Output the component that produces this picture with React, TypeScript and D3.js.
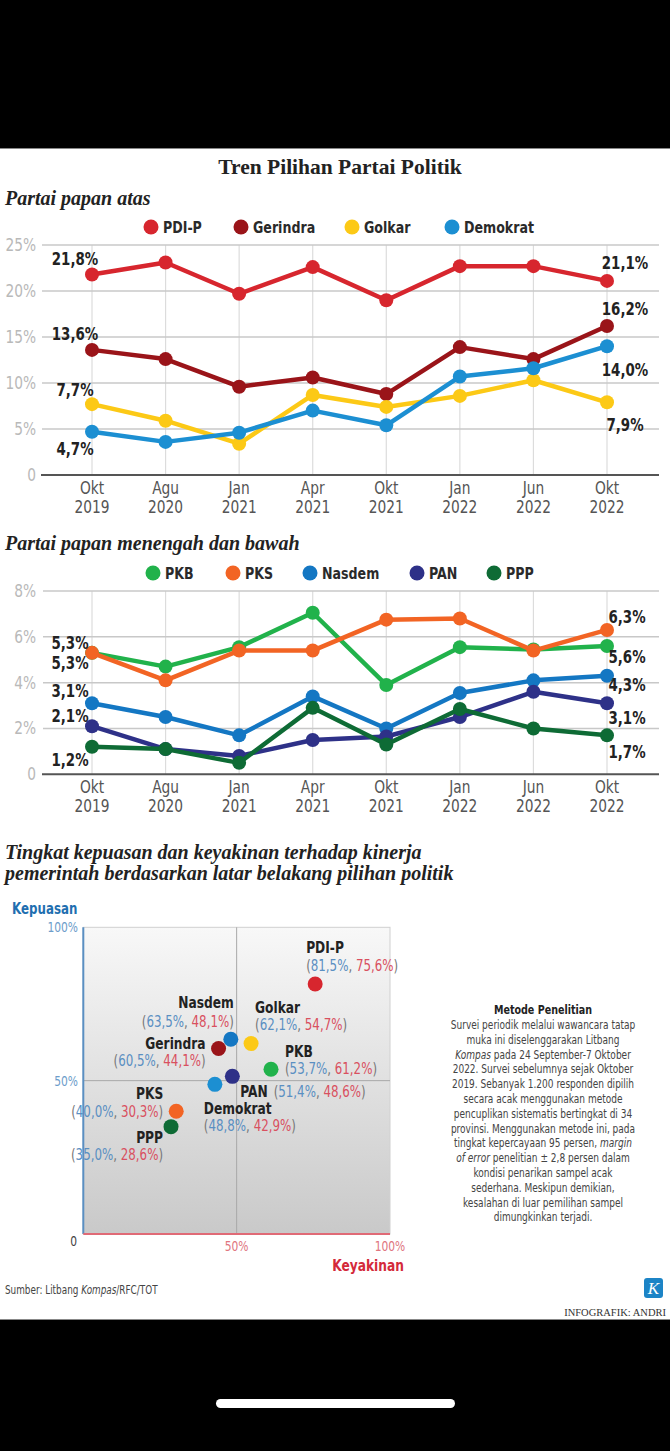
import React from 'react';
import * as d3 from 'd3';

// ---------- DATA ----------
const periodMonth = ['Okt', 'Agu', 'Jan', 'Apr', 'Okt', 'Jan', 'Jun', 'Okt'];
const periodYear = ['2019', '2020', '2021', '2021', '2021', '2022', '2022', '2022'];

const topParties = ['PDI-P', 'Gerindra', 'Golkar', 'Demokrat'];
const pdip = [21.8, 23.1, 19.7, 22.6, 19.0, 22.7, 22.7, 21.1];
const gerindra = [13.6, 12.6, 9.6, 10.6, 8.8, 13.9, 12.6, 16.2];
const golkar = [7.7, 5.9, 3.4, 8.7, 7.4, 8.6, 10.3, 7.9];
const demokrat = [4.7, 3.6, 4.6, 7.0, 5.4, 10.7, 11.6, 14.0];
const topTicks = [0, 5, 10, 15, 20, 25];

const midParties = ['PKB', 'PKS', 'Nasdem', 'PAN', 'PPP'];
const pkb = [5.3, 4.7, 5.55, 7.05, 3.9, 5.55, 5.45, 5.6];
const pks = [5.3, 4.1, 5.4, 5.4, 6.75, 6.8, 5.4, 6.3];
const nasdem = [3.1, 2.5, 1.7, 3.4, 2.0, 3.55, 4.1, 4.3];
const pan = [2.1, 1.1, 0.8, 1.5, 1.65, 2.5, 3.6, 3.1];
const ppp = [1.2, 1.1, 0.5, 2.9, 1.3, 2.85, 2.0, 1.7];
const midTicks = [0, 2, 4, 6, 8];

const scatterParties = ['PDI-P', 'Nasdem', 'Golkar', 'Gerindra', 'PKB', 'PAN', 'Demokrat', 'PKS', 'PPP'];
const kepuasan = [81.5, 63.5, 62.1, 60.5, 53.7, 51.4, 48.8, 40.0, 35.0];
const keyakinan = [75.6, 48.1, 54.7, 44.1, 61.2, 48.6, 42.9, 30.3, 28.6];
const scatterTicks = [0, 50, 100];

const methodLines = [
  [['Survei periodik melalui wawancara tatap', false]],
  [['muka ini diselenggarakan Litbang', false]],
  [['Kompas', true], [' pada 24 September-7 Oktober', false]],
  [['2022. Survei sebelumnya sejak Oktober', false]],
  [['2019. Sebanyak 1.200 responden dipilih', false]],
  [['secara acak menggunakan metode', false]],
  [['pencuplikan sistematis bertingkat di 34', false]],
  [['provinsi. Menggunakan metode ini, pada', false]],
  [['tingkat kepercayaan 95 persen, ', false], ['margin', true]],
  [['of error', true], [' penelitian \u00b1 2,8 persen dalam', false]],
  [['kondisi penarikan sampel acak', false]],
  [['sederhana. Meskipun demikian,', false]],
  [['kesalahan di luar pemilihan sampel', false]],
  [['dimungkinkan terjadi.', false]],
] as [string, boolean][][];

// ---------- STYLE ----------
const COND = "'DejaVu Sans Condensed', 'Liberation Sans Narrow', 'Roboto', sans-serif";
const SERIF = "'Liberation Serif', 'DejaVu Serif', serif";
const SX = 0.85;

const partyColor: Record<string, string> = {
  'PDI-P': '#d7262e',
  Gerindra: '#9a1419',
  Golkar: '#fcc916',
  Demokrat: '#1c8fd2',
  PKB: '#21b24b',
  PKS: '#f26424',
  Nasdem: '#1477c3',
  PAN: '#2e3188',
  PPP: '#0e6b35',
};

const fmt = (v: number) => d3.format('.1f')(v).replace('.', ',') + '%';

const W = 670;
const H = 1451;

type Series = { name: string; values: number[] };

const topSeries: Series[] = [
  { name: 'PDI-P', values: pdip },
  { name: 'Gerindra', values: gerindra },
  { name: 'Golkar', values: golkar },
  { name: 'Demokrat', values: demokrat },
];
const midSeries: Series[] = [
  { name: 'PKB', values: pkb },
  { name: 'PKS', values: pks },
  { name: 'Nasdem', values: nasdem },
  { name: 'PAN', values: pan },
  { name: 'PPP', values: ppp },
];

// label offsets (layout only)
const topLeftOff: Record<string, number> = { 'PDI-P': -16, Gerindra: -16, Golkar: -15, Demokrat: 17 };
const topRightOff: Record<string, number> = { 'PDI-P': -18, Gerindra: -17, Golkar: 22, Demokrat: 23 };
const midLeftOff: Record<string, number> = { PKB: -10, PKS: 10, Nasdem: -12.5, PAN: -11, PPP: 13 };
const midRightOff: Record<string, number> = { PKB: 11, PKS: -13, Nasdem: 9, PAN: 14, PPP: 16 };

const topLegendX = [151, 241, 352, 452];
const midLegendX = [153, 233, 310, 417, 494];

const x = d3.scalePoint<number>().domain(d3.range(periodMonth.length)).range([92, 607]);

// condensed text: horizontally squeezed to mimic a narrow typeface
function CT({
  x, y, size, weight = 400, fill, anchor = 'start', sx = SX, children, italic = false,
}: {
  x: number; y: number; size: number; weight?: number; fill: string; anchor?: 'start' | 'middle' | 'end';
  sx?: number; children: React.ReactNode; italic?: boolean;
}) {
  return (
    <text
      transform={`translate(${x},${y}) scale(${sx},1)`}
      textAnchor={anchor}
      fontFamily={COND}
      fontSize={size}
      fontWeight={weight}
      fontStyle={italic ? 'italic' : 'normal'}
      fill={fill}
    >
      {children}
    </text>
  );
}

function LineChart({
  series, yScale, ticks, leftOff, rightOff, leftX, rightX, gridLeft,
}: {
  series: Series[]; yScale: d3.ScaleLinear<number, number>; ticks: number[];
  leftOff: Record<string, number>; rightOff: Record<string, number>;
  leftX: number; rightX: number; gridLeft: number;
}) {
  const line = d3.line<number>().x((_, i) => x(i)!).y((d) => yScale(d));
  const [y0, yTop] = [yScale(ticks[0]), yScale(ticks[ticks.length - 1])];
  const last = periodMonth.length - 1;
  return (
    <g>
      {periodMonth.map((_, i) => (
        <line key={'v' + i} x1={x(i)} x2={x(i)} y1={yTop} y2={y0} stroke="#dcdcdc" strokeWidth={1.2} />
      ))}
      {ticks.map((t) => (
        <g key={'t' + t}>
          {t !== 0 && (
            <line x1={gridLeft} x2={659} y1={yScale(t)} y2={yScale(t)} stroke="#c8c8c8" strokeWidth={1.5} />
          )}
          <CT x={36} y={yScale(t) + 6} anchor="end" size={17} fill="#b9b9b9" sx={0.9}>
            {t === 0 ? '0' : t + '%'}
          </CT>
        </g>
      ))}
      <line x1={gridLeft - 1} x2={659} y1={y0} y2={y0} stroke="#555" strokeWidth={2} />
      {periodMonth.map((m, i) => (
        <g key={'x' + i}>
          <CT x={x(i)!} y={y0 + 19} anchor="middle" size={18} fill="#555">{m}</CT>
          <CT x={x(i)!} y={y0 + 38} anchor="middle" size={18} fill="#555">{periodYear[i]}</CT>
        </g>
      ))}
      {series.map((s) => (
        <g key={s.name}>
          <path d={line(s.values)!} fill="none" stroke={partyColor[s.name]} strokeWidth={4.5} strokeLinejoin="round" />
          {s.values.map((v, i) => (
            <circle key={i} cx={x(i)} cy={yScale(v)} r={7} fill={partyColor[s.name]} />
          ))}
        </g>
      ))}
      {series.map((s) => (
        <g key={'l' + s.name}>
          <CT x={leftX} y={yScale(s.values[0]) + leftOff[s.name] + 6.5} anchor="middle" size={17.5} weight={700} fill="#222">
            {fmt(s.values[0])}
          </CT>
          <CT x={rightX} y={yScale(s.values[last]) + rightOff[s.name] + 6.5} anchor="middle" size={17.5} weight={700} fill="#222">
            {fmt(s.values[last])}
          </CT>
        </g>
      ))}
    </g>
  );
}

function Legend({ names, xs, y }: { names: string[]; xs: number[]; y: number }) {
  return (
    <g>
      {names.map((n, i) => (
        <g key={n}>
          <circle cx={xs[i]} cy={y} r={7.5} fill={partyColor[n]} />
          <CT x={xs[i] + 12} y={y + 6} size={16.5} weight={700} fill="#2a2a2a">{n}</CT>
        </g>
      ))}
    </g>
  );
}

const scatterLayout: Record<string, { anchor: 'start' | 'end'; nx: number; ny: number; vx: number; vy: number; inline?: boolean }> = {
  'PDI-P': { anchor: 'start', nx: -9, ny: -37, vx: -9, vy: -19 },
  Nasdem: { anchor: 'end', nx: 3, ny: -37.5, vx: 3, vy: -18 },
  Golkar: { anchor: 'start', nx: 4, ny: -36.5, vx: 4, vy: -19 },
  Gerindra: { anchor: 'end', nx: -13, ny: -5, vx: -13, vy: 12 },
  PKB: { anchor: 'start', nx: 14, ny: -18.5, vx: 14, vy: -1 },
  PAN: { anchor: 'start', nx: 8, ny: 15, vx: 40, vy: 15, inline: true },
  Demokrat: { anchor: 'start', nx: -11, ny: 24, vx: -11, vy: 41 },
  PKS: { anchor: 'end', nx: -13, ny: -18, vx: -13, vy: 0 },
  PPP: { anchor: 'end', nx: -8, ny: 10, vx: -8, vy: 28 },
};

export default function App() {
  const yTop = d3.scaleLinear().domain([0, 25]).range([475, 245]);
  const yMid = d3.scaleLinear().domain([0, 8]).range([774.3, 591]);
  const sx = d3.scaleLinear().domain([0, 100]).range([83.3, 390]);
  const sy = d3.scaleLinear().domain([0, 100]).range([1234, 927.3]);

  const BLUE_T = '#5a8fc2';
  const RED_T = '#d9505f';

  return (
    <svg width={W} height={H} viewBox={`0 0 ${W} ${H}`} style={{ position: 'absolute', left: 0, top: 0, display: 'block' }}>
      <defs>
        <linearGradient id="sbg" x1="0" y1="0" x2="0" y2="1">
          <stop offset="0" stopColor="#f8f8f8" />
          <stop offset="1" stopColor="#c9c9c9" />
        </linearGradient>
      </defs>
      <rect x={0} y={0} width={W} height={H} fill="#000" />
      <rect x={0} y={148} width={W} height={1172} fill="#fff" />
      <line x1={0} x2={W} y1={148.5} y2={148.5} stroke="#888" strokeWidth={1} />
      <line x1={0} x2={W} y1={1319.5} y2={1319.5} stroke="#888" strokeWidth={1} />

      {/* Title */}
      <text x={340} y={174} textAnchor="middle" fontFamily={SERIF} fontWeight={700} fontSize={21.5} fill="#222">
        Tren Pilihan Partai Politik
      </text>

      {/* Top chart */}
      <text x={5} y={205} fontFamily={SERIF} fontWeight={700} fontStyle="italic" fontSize={20} fill="#222">
        Partai papan atas
      </text>
      <Legend names={topParties} xs={topLegendX} y={227} />
      <LineChart
        series={topSeries}
        yScale={yTop}
        ticks={topTicks}
        leftOff={topLeftOff}
        rightOff={topRightOff}
        leftX={75}
        rightX={625}
        gridLeft={42}
      />

      {/* Mid chart */}
      <text x={5} y={550} fontFamily={SERIF} fontWeight={700} fontStyle="italic" fontSize={20} fill="#222">
        Partai papan menengah dan bawah
      </text>
      <Legend names={midParties} xs={midLegendX} y={573} />
      <LineChart
        series={midSeries}
        yScale={yMid}
        ticks={midTicks}
        leftOff={midLeftOff}
        rightOff={midRightOff}
        leftX={70}
        rightX={627}
        gridLeft={43}
      />

      {/* Scatter */}
      <text fontFamily={SERIF} fontWeight={700} fontStyle="italic" fontSize={20} fill="#222">
        <tspan x={5} y={859}>Tingkat kepuasan dan keyakinan terhadap kinerja</tspan>
        <tspan x={5} y={880}>pemerintah berdasarkan latar belakang pilihan politik</tspan>
      </text>
      <CT x={12} y={914} size={15.5} weight={700} fill="#1f6fb0">Kepuasan</CT>

      <rect x={sx(0)} y={sy(100)} width={sx(100) - sx(0)} height={sy(0) - sy(100)} fill="url(#sbg)" stroke="#d0d0d0" strokeWidth={1} />
      <line x1={sx(50)} x2={sx(50)} y1={sy(100)} y2={sy(0)} stroke="#a8a8a8" strokeWidth={1} />
      <line x1={sx(0)} x2={sx(100)} y1={sy(50)} y2={sy(50)} stroke="#a8a8a8" strokeWidth={1} />
      <line x1={sx(0)} x2={sx(0)} y1={sy(100)} y2={sy(0)} stroke={BLUE_T} strokeWidth={2} />
      <line x1={sx(0)} x2={sx(100)} y1={sy(0)} y2={sy(0)} stroke="#e06a76" strokeWidth={2} />
      {scatterTicks.filter((t) => t > 0).map((t) => (
        <CT key={'sy' + t} x={78} y={sy(t) + 5} anchor="end" size={14} fill="#6d9dca">{t + '%'}</CT>
      ))}
      <CT x={77} y={sy(0) + 12} anchor="end" size={14} fill="#444">0</CT>
      {scatterTicks.filter((t) => t > 0).map((t) => (
        <CT key={'sx' + t} x={sx(t)} y={sy(0) + 17} anchor="middle" size={14} fill="#e07580">{t + '%'}</CT>
      ))}
      <CT x={368} y={1271} anchor="middle" size={16} weight={700} fill="#d42a3a">Keyakinan</CT>

      {scatterParties.map((p, i) => {
        const px = sx(keyakinan[i]);
        const py = sy(kepuasan[i]);
        const L = scatterLayout[p];
        return (
          <g key={p}>
            <circle cx={px} cy={py} r={7.5} fill={partyColor[p]} />
            <CT x={px + L.nx} y={py + L.ny + 6} anchor={L.anchor} size={16} weight={700} fill="#222">{p}</CT>
            <CT x={L.inline ? sx(50) + 37 : px + L.vx} y={py + L.vy + 5.5} anchor={L.anchor} size={15.5} fill="#777">
              (<tspan fill={BLUE_T}>{fmt(kepuasan[i])}</tspan>, <tspan fill={RED_T}>{fmt(keyakinan[i])}</tspan>)
            </CT>
          </g>
        );
      })}

      {/* Methodology */}
      <CT x={543} y={1014} anchor="middle" size={12.5} weight={700} fill="#222">Metode Penelitian</CT>
      {methodLines.map((segs, i) => (
        <CT key={'m' + i} x={543} y={1029 + i * 14.8} anchor="middle" size={11.8} fill="#444">
          {segs.map(([s, it], j) => (
            <tspan key={j} fontStyle={it ? 'italic' : 'normal'}>{s}</tspan>
          ))}
        </CT>
      ))}

      {/* Footer */}
      <CT x={5} y={1294} size={11.6} fill="#444">
        Sumber: Litbang <tspan fontStyle="italic">Kompas</tspan>/RFC/TOT
      </CT>
      <rect x={644} y={1278} width={19} height={20} rx={3} fill="#1c84c6" />
      <text x={653.5} y={1294} textAnchor="middle" fontFamily={SERIF} fontStyle="italic" fontSize={17} fill="#fff">K</text>
      <text x={666} y={1316} textAnchor="end" fontFamily={SERIF} fontSize={10.5} fill="#333">INFOGRAFIK: ANDRI</text>

      {/* home indicator */}
      <rect x={216} y={1399} width={239} height={9} rx={4.5} fill="#fff" />
    </svg>
  );
}
